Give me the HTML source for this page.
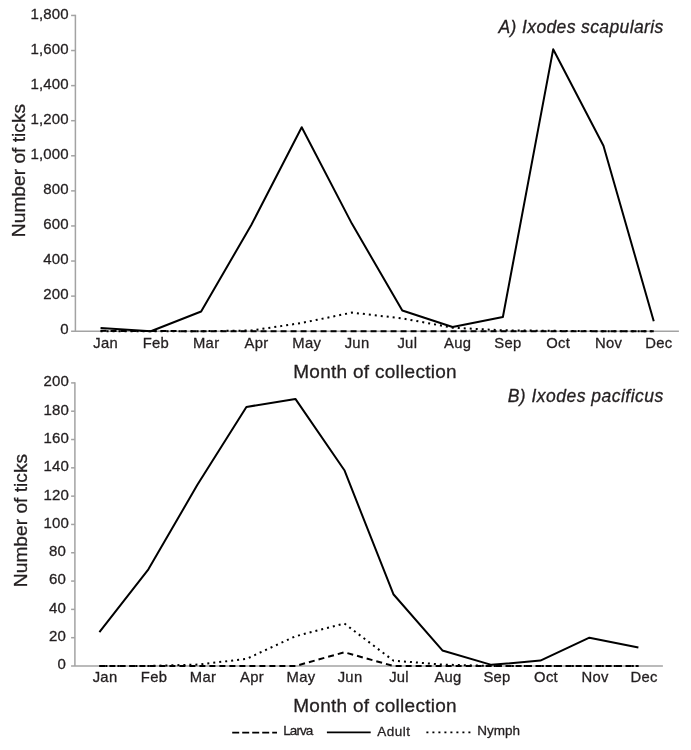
<!DOCTYPE html><html><head><meta charset="utf-8"><style>html,body{margin:0;padding:0;background:#fff;}svg{display:block;will-change:transform;}text{font-family:"Liberation Sans", Arial, sans-serif;fill:#231f20;stroke:#231f20;stroke-width:0.3px;}</style></head><body>
<svg width="691" height="750" viewBox="0 0 691 750">
<path d="M75.40 14.75V331.20" stroke="#a3a3a3" stroke-width="1.5" fill="none"/>
<path d="M71.1 331.20H678.90" stroke="#a3a3a3" stroke-width="1.5" fill="none"/>
<text x="68.75" y="334.40" font-size="15" letter-spacing="0.15" text-anchor="end">0</text>
<path d="M71.1 296.12H75.40" stroke="#a3a3a3" stroke-width="1.5" fill="none"/>
<text x="68.75" y="299.32" font-size="15" letter-spacing="0.15" text-anchor="end">200</text>
<path d="M71.1 261.03H75.40" stroke="#a3a3a3" stroke-width="1.5" fill="none"/>
<text x="68.75" y="264.23" font-size="15" letter-spacing="0.15" text-anchor="end">400</text>
<path d="M71.1 225.95H75.40" stroke="#a3a3a3" stroke-width="1.5" fill="none"/>
<text x="68.75" y="229.15" font-size="15" letter-spacing="0.15" text-anchor="end">600</text>
<path d="M71.1 190.87H75.40" stroke="#a3a3a3" stroke-width="1.5" fill="none"/>
<text x="68.75" y="194.07" font-size="15" letter-spacing="0.15" text-anchor="end">800</text>
<path d="M71.1 155.78H75.40" stroke="#a3a3a3" stroke-width="1.5" fill="none"/>
<text x="68.75" y="158.98" font-size="15" letter-spacing="0.15" text-anchor="end">1,000</text>
<path d="M71.1 120.70H75.40" stroke="#a3a3a3" stroke-width="1.5" fill="none"/>
<text x="68.75" y="123.90" font-size="15" letter-spacing="0.15" text-anchor="end">1,200</text>
<path d="M71.1 85.62H75.40" stroke="#a3a3a3" stroke-width="1.5" fill="none"/>
<text x="68.75" y="88.82" font-size="15" letter-spacing="0.15" text-anchor="end">1,400</text>
<path d="M71.1 50.53H75.40" stroke="#a3a3a3" stroke-width="1.5" fill="none"/>
<text x="68.75" y="53.73" font-size="15" letter-spacing="0.15" text-anchor="end">1,600</text>
<path d="M71.1 15.45H75.40" stroke="#a3a3a3" stroke-width="1.5" fill="none"/>
<text x="68.75" y="18.65" font-size="15" letter-spacing="0.15" text-anchor="end">1,800</text>
<text x="105.60" y="347.6" font-size="14.8" letter-spacing="0.3" text-anchor="middle">Jan</text>
<text x="155.89" y="347.6" font-size="14.8" letter-spacing="0.3" text-anchor="middle">Feb</text>
<text x="206.18" y="347.6" font-size="14.8" letter-spacing="0.3" text-anchor="middle">Mar</text>
<text x="256.47" y="347.6" font-size="14.8" letter-spacing="0.3" text-anchor="middle">Apr</text>
<text x="306.76" y="347.6" font-size="14.8" letter-spacing="0.3" text-anchor="middle">May</text>
<text x="357.05" y="347.6" font-size="14.8" letter-spacing="0.3" text-anchor="middle">Jun</text>
<text x="407.35" y="347.6" font-size="14.8" letter-spacing="0.3" text-anchor="middle">Jul</text>
<text x="457.64" y="347.6" font-size="14.8" letter-spacing="0.3" text-anchor="middle">Aug</text>
<text x="507.93" y="347.6" font-size="14.8" letter-spacing="0.3" text-anchor="middle">Sep</text>
<text x="558.22" y="347.6" font-size="14.8" letter-spacing="0.3" text-anchor="middle">Oct</text>
<text x="608.51" y="347.6" font-size="14.8" letter-spacing="0.3" text-anchor="middle">Nov</text>
<text x="658.80" y="347.6" font-size="14.8" letter-spacing="0.3" text-anchor="middle">Dec</text>
<text x="375.1" y="378.0" font-size="19" letter-spacing="0.28" text-anchor="middle">Month of collection</text>
<text transform="translate(25.0 170.5) rotate(-90)" font-size="19.2" text-anchor="middle">Number of ticks</text>
<text x="663.7" y="32.9" font-size="17.5" letter-spacing="0.38" font-style="italic" text-anchor="end">A) Ixodes scapularis</text>
<polyline points="100.55,330.85 150.84,331.02 201.13,331.20 251.42,331.20 301.71,331.20 352.00,331.20 402.30,331.20 452.59,331.20 502.88,331.20 553.17,331.20 603.46,331.20 653.75,331.20" fill="none" stroke="#000" stroke-width="2.0" stroke-dasharray="6 4"/>
<polyline points="100.55,331.20 150.84,331.20 201.13,331.20 251.42,330.50 301.71,322.96 352.00,312.61 402.30,318.39 452.59,327.69 502.88,330.32 553.17,330.85 603.46,331.20 653.75,331.20" fill="none" stroke="#000" stroke-width="2.0" stroke-dasharray="2 4"/>
<polyline points="100.55,328.04 150.84,331.20 201.13,311.55 251.42,224.72 301.71,127.19 352.00,223.84 402.30,310.50 452.59,326.99 502.88,316.99 553.17,49.31 603.46,145.78 653.75,321.20" fill="none" stroke="#000" stroke-width="2.0" stroke-linejoin="round"/>
<path d="M74.90 382.20V666.00" stroke="#a3a3a3" stroke-width="1.5" fill="none"/>
<path d="M71.1 666.00H662.90" stroke="#a3a3a3" stroke-width="1.5" fill="none"/>
<text x="66.05" y="669.40" font-size="15" letter-spacing="0.15" text-anchor="end">0</text>
<path d="M71.1 637.69H74.90" stroke="#a3a3a3" stroke-width="1.5" fill="none"/>
<text x="66.05" y="641.09" font-size="15" letter-spacing="0.15" text-anchor="end">20</text>
<path d="M71.1 609.38H74.90" stroke="#a3a3a3" stroke-width="1.5" fill="none"/>
<text x="66.05" y="612.78" font-size="15" letter-spacing="0.15" text-anchor="end">40</text>
<path d="M71.1 581.07H74.90" stroke="#a3a3a3" stroke-width="1.5" fill="none"/>
<text x="66.05" y="584.47" font-size="15" letter-spacing="0.15" text-anchor="end">60</text>
<path d="M71.1 552.76H74.90" stroke="#a3a3a3" stroke-width="1.5" fill="none"/>
<text x="66.05" y="556.16" font-size="15" letter-spacing="0.15" text-anchor="end">80</text>
<path d="M71.1 524.45H74.90" stroke="#a3a3a3" stroke-width="1.5" fill="none"/>
<text x="68.95" y="527.85" font-size="15" letter-spacing="0.15" text-anchor="end">100</text>
<path d="M71.1 496.14H74.90" stroke="#a3a3a3" stroke-width="1.5" fill="none"/>
<text x="68.95" y="499.54" font-size="15" letter-spacing="0.15" text-anchor="end">120</text>
<path d="M71.1 467.83H74.90" stroke="#a3a3a3" stroke-width="1.5" fill="none"/>
<text x="68.95" y="471.23" font-size="15" letter-spacing="0.15" text-anchor="end">140</text>
<path d="M71.1 439.52H74.90" stroke="#a3a3a3" stroke-width="1.5" fill="none"/>
<text x="68.95" y="442.92" font-size="15" letter-spacing="0.15" text-anchor="end">160</text>
<path d="M71.1 411.21H74.90" stroke="#a3a3a3" stroke-width="1.5" fill="none"/>
<text x="68.95" y="414.61" font-size="15" letter-spacing="0.15" text-anchor="end">180</text>
<path d="M71.1 382.90H74.90" stroke="#a3a3a3" stroke-width="1.5" fill="none"/>
<text x="68.95" y="386.30" font-size="15" letter-spacing="0.15" text-anchor="end">200</text>
<text x="105.05" y="681.5" font-size="14.8" letter-spacing="0.3" text-anchor="middle">Jan</text>
<text x="154.05" y="681.5" font-size="14.8" letter-spacing="0.3" text-anchor="middle">Feb</text>
<text x="203.05" y="681.5" font-size="14.8" letter-spacing="0.3" text-anchor="middle">Mar</text>
<text x="252.05" y="681.5" font-size="14.8" letter-spacing="0.3" text-anchor="middle">Apr</text>
<text x="301.05" y="681.5" font-size="14.8" letter-spacing="0.3" text-anchor="middle">May</text>
<text x="350.05" y="681.5" font-size="14.8" letter-spacing="0.3" text-anchor="middle">Jun</text>
<text x="399.05" y="681.5" font-size="14.8" letter-spacing="0.3" text-anchor="middle">Jul</text>
<text x="448.05" y="681.5" font-size="14.8" letter-spacing="0.3" text-anchor="middle">Aug</text>
<text x="497.05" y="681.5" font-size="14.8" letter-spacing="0.3" text-anchor="middle">Sep</text>
<text x="546.05" y="681.5" font-size="14.8" letter-spacing="0.3" text-anchor="middle">Oct</text>
<text x="595.05" y="681.5" font-size="14.8" letter-spacing="0.3" text-anchor="middle">Nov</text>
<text x="644.05" y="681.5" font-size="14.8" letter-spacing="0.3" text-anchor="middle">Dec</text>
<text x="375.1" y="712.0" font-size="19" letter-spacing="0.28" text-anchor="middle">Month of collection</text>
<text transform="translate(26.9 520.5) rotate(-90)" font-size="19.2" text-anchor="middle">Number of ticks</text>
<text x="663.7" y="402.1" font-size="17.5" letter-spacing="0.48" font-style="italic" text-anchor="end">B) Ixodes pacificus</text>
<polyline points="99.40,666.00 148.40,666.00 197.40,666.00 246.40,666.00 295.40,666.00 344.40,652.27 393.40,666.00 442.40,666.00 491.40,666.00 540.40,666.00 589.40,666.00 638.40,666.00" fill="none" stroke="#000" stroke-width="2.0" stroke-dasharray="6 4"/>
<polyline points="99.40,666.00 148.40,666.00 197.40,664.58 246.40,658.92 295.40,636.27 344.40,623.53 393.40,660.62 442.40,664.58 491.40,666.00 540.40,666.00 589.40,666.00 638.40,666.00" fill="none" stroke="#000" stroke-width="2.0" stroke-dasharray="2 4"/>
<polyline points="99.40,632.03 148.40,569.32 197.40,484.82 246.40,406.96 295.40,398.90 344.40,470.24 393.40,594.23 442.40,650.43 491.40,664.87 540.40,660.62 589.40,637.69 638.40,647.60" fill="none" stroke="#000" stroke-width="2.0" stroke-linejoin="round"/>
<path d="M232.2 732.5H277" stroke="#000" stroke-width="1.75" stroke-dasharray="7 3"/>
<text x="283.2" y="735" font-size="13.5" letter-spacing="-0.9">Larva</text>
<path d="M326.9 732.3H370.7" stroke="#000" stroke-width="1.8"/>
<text x="377.3" y="735.5" font-size="13.5" letter-spacing="0.5">Adult</text>
<path d="M426.4 732.4H471" stroke="#000" stroke-width="1.75" stroke-dasharray="2 4"/>
<text x="477.3" y="734.8" font-size="13.5">Nymph</text>
</svg></body></html>
